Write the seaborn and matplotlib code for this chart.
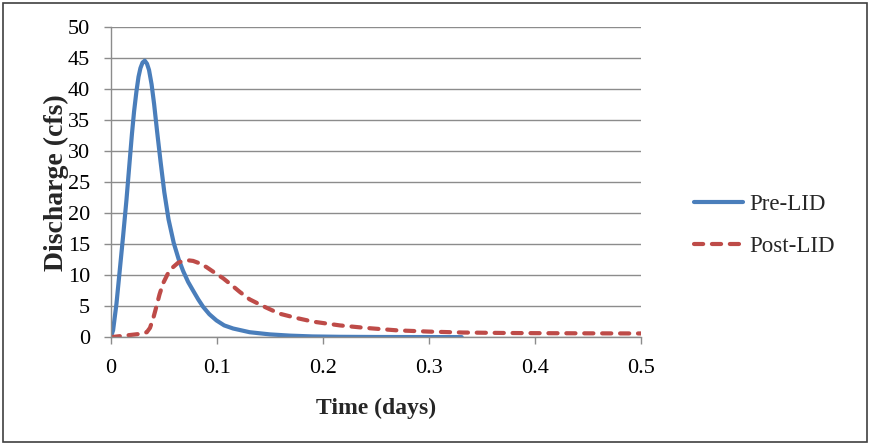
import numpy as np
import pandas as pd
import seaborn as sns
import matplotlib.pyplot as plt
from matplotlib.patches import Rectangle

# values
pre_time = [0.0, 0.0022, 0.0054, 0.0085, 0.0116, 0.0148, 0.0179, 0.0200, 0.0220,
            0.0242, 0.0262, 0.0280, 0.0300, 0.0321, 0.0342, 0.0361, 0.0385, 0.0409,
            0.0437, 0.0470, 0.0505, 0.0545, 0.0594, 0.0640, 0.0682, 0.0730, 0.0777,
            0.0825, 0.0871, 0.0930, 0.0997, 0.1070, 0.1154, 0.131, 0.150, 0.169,
            0.190, 0.216, 0.250, 0.290, 0.331]
pre_flow = [0.0, 1.1, 5.4, 10.8, 16.2, 22.1, 28.5, 32.8, 36.4,
            39.6, 42.0, 43.4, 44.3, 44.6, 44.1, 43.1, 40.8, 37.6,
            33.2, 28.3, 23.4, 19.0, 15.2, 12.6, 10.7, 8.9, 7.5,
            6.1, 4.9, 3.7, 2.7, 1.9, 1.4, 0.8, 0.45, 0.25,
            0.12, 0.06, 0.03, 0.02, 0.01]

post_time = [0.0, 0.013, 0.026, 0.034, 0.0370, 0.0400, 0.0430, 0.0460, 0.0494,
             0.0540, 0.0588, 0.0635, 0.0682, 0.0730, 0.0777, 0.0840, 0.0903, 0.0980,
             0.106, 0.114, 0.1217, 0.131, 0.145, 0.159, 0.175, 0.191, 0.216,
             0.240, 0.270, 0.300, 0.332, 0.370, 0.400, 0.450, 0.500]
post_flow = [0.0, 0.25, 0.5, 0.8, 1.5, 3.0, 4.9, 6.9, 8.7,
             10.3, 11.3, 12.0, 12.3, 12.4, 12.3, 11.9, 11.3, 10.4,
             9.5, 8.4, 7.3, 6.1, 4.9, 3.8, 3.1, 2.5, 1.9,
             1.5, 1.1, 0.9, 0.75, 0.68, 0.65, 0.62, 0.6]

df = pd.concat([
    pd.DataFrame({"Time": pre_time, "Discharge": pre_flow, "Series": "Pre-LID"}),
    pd.DataFrame({"Time": post_time, "Discharge": post_flow, "Series": "Post-LID"}),
])

sns.set_theme(style="white")
plt.rcParams['font.family'] = ['Liberation Serif', 'DejaVu Serif']
plt.rcParams['lines.dash_capstyle'] = 'round'
plt.rcParams['lines.solid_capstyle'] = 'round'
plt.rcParams['lines.solid_joinstyle'] = 'round'

fig = plt.figure(figsize=(8.72, 4.46), dpi=100)
ax = fig.add_axes([0.127, 0.244, 0.608, 0.695])

palette = {"Pre-LID": "#4A7EBB", "Post-LID": "#BE4B48"}
sns.lineplot(data=df, x="Time", y="Discharge", hue="Series", style="Series",
             palette=palette, dashes={"Pre-LID": "", "Post-LID": (2.2, 2.1)},
             linewidth=3.0, sort=False, estimator=None, ax=ax)

ax.set_xlim(0, 0.5)
ax.set_ylim(0, 50)
ax.set_xticks(np.arange(0, 0.51, 0.1))
ax.set_xticklabels(["0", "0.1", "0.2", "0.3", "0.4", "0.5"])
ax.set_yticks(np.arange(0, 51, 5))
ax.yaxis.grid(True, color="#8c8c8c", linewidth=1)
ax.xaxis.grid(False)
ax.set_axisbelow(True)

for s in ["top", "right"]:
    ax.spines[s].set_visible(False)
for s in ["left", "bottom"]:
    ax.spines[s].set_color("#8c8c8c")
    ax.spines[s].set_linewidth(1)

ax.tick_params(axis="both", direction="out", length=5, width=1, color="#8c8c8c",
               labelsize=16, labelcolor="black", bottom=True, left=True)
ax.tick_params(axis="x", pad=11)
ax.tick_params(axis="y", pad=10)
ax.set_xlabel("Time (days)", fontsize=17, fontweight="bold", labelpad=14)
ax.set_ylabel("Discharge (cfs)", fontsize=20, fontweight="bold", labelpad=-1)

ax.legend(loc="center left", bbox_to_anchor=(1.062, 0.36), frameon=False,
          fontsize=16.5, handlelength=2.1, handletextpad=0.3, labelspacing=0.9,
          title=None)

fig.patches.append(Rectangle((0.004, 0.008), 0.99, 0.985, transform=fig.transFigure,
                             fill=False, edgecolor="#404040", linewidth=1.2))

fig.savefig("out.png", dpi=100, facecolor="white")
